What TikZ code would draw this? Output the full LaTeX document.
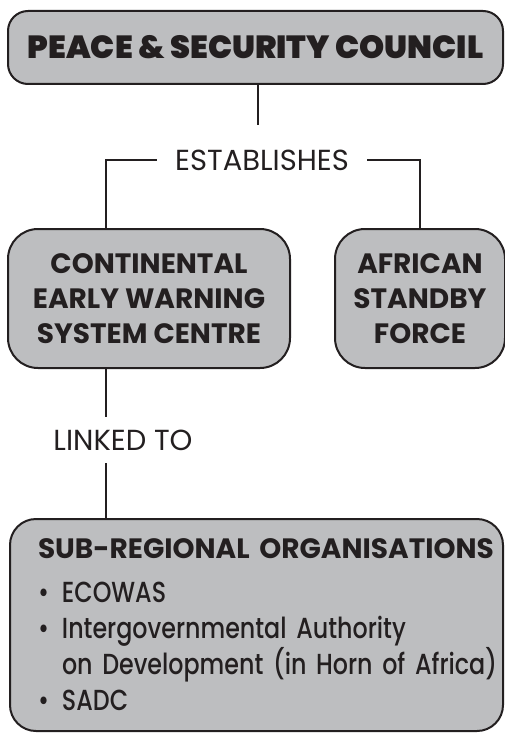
\documentclass[tikz,border=0pt]{standalone}
\usepackage{fontspec}
\setmainfont{Poppins}
\newfontfamily\heavyfont{Poppins Black}
\newfontfamily\medfont{Poppins Medium}[FakeStretch=0.82]
\usetikzlibrary{positioning}
\definecolor{boxgrey}{HTML}{BDBEC0}
\definecolor{ink}{HTML}{231F20}
\tikzset{
  organ/.style={draw=ink, fill=boxgrey, line width=2pt, rounded corners=#1,
    inner sep=0pt, text=ink, align=center},
  organ/.default=24pt,
  link/.style={draw=ink, line width=2pt},
  verb/.style={inner sep=0pt, text=ink, font=\fontsize{29}{32}\selectfont}
}

\begin{document}
\begin{tikzpicture}[x=1pt,y=-1pt]
   \useasboundingbox (0,0) rectangle (504,733);
   % council and what it sets up
   \node[organ=20pt, minimum width=495pt, minimum height=73pt,
         font=\heavyfont\fontsize{32}{36}\selectfont] (psc) at (255.5,47.5)
         {PEACE \& SECURITY COUNCIL};
   \coordinate (fork) at ([yshift=-40pt,xshift=2.5pt]psc.south);
   \node[verb, minimum width=210pt, minimum height=30pt] (est) at (262,160) {ESTABLISHES};
   \node[organ=30pt, minimum width=282pt, minimum height=139pt,
         font=\bfseries\fontsize{28}{35}\selectfont] (cews) at (149,298.5)
         {CONTINENTAL\\EARLY WARNING\\SYSTEM CENTRE};
   \node[organ=30pt, minimum width=170pt, minimum height=139pt,
         font=\bfseries\fontsize{28}{35}\selectfont] (asf) [right=43pt of cews]
         {AFRICAN\\STANDBY\\FORCE};
   \node[verb, minimum height=46pt] (lnk) at (123,440) {LINKED TO};
   \node[organ=26pt, minimum width=493pt, minimum height=212pt, align=left,
         text width=437pt, font=\medfont\fontsize{29}{36}\selectfont] (sro) at (256.5,625)
         {\mbox{\normalfont\bfseries\fontsize{28}{36}\selectfont SUB-REGIONAL ORGANISATIONS}\\[8pt]
          \makebox[24pt][l]{\textbullet}ECOWAS\\
          \mbox{\makebox[24pt][l]{\textbullet}Intergovernmental Authority}\\
          \mbox{\hspace*{24pt}on Development (in Horn of Africa)}\\
          \makebox[24pt][l]{\textbullet}SADC};

   \draw[link] (fork |- psc.south) -- (fork);
   \draw[link] (est.west) -| ([xshift=99pt]cews.north west);
   \draw[link] (est.east) -| (asf.north);
   \coordinate (lx) at ([xshift=99pt]cews.south west);
   \draw[link] (lx) -- (lnk.north -| lx);
   \draw[link] (lnk.south -| lx) -- (sro.north -| lx);
\end{tikzpicture}
\end{document}
